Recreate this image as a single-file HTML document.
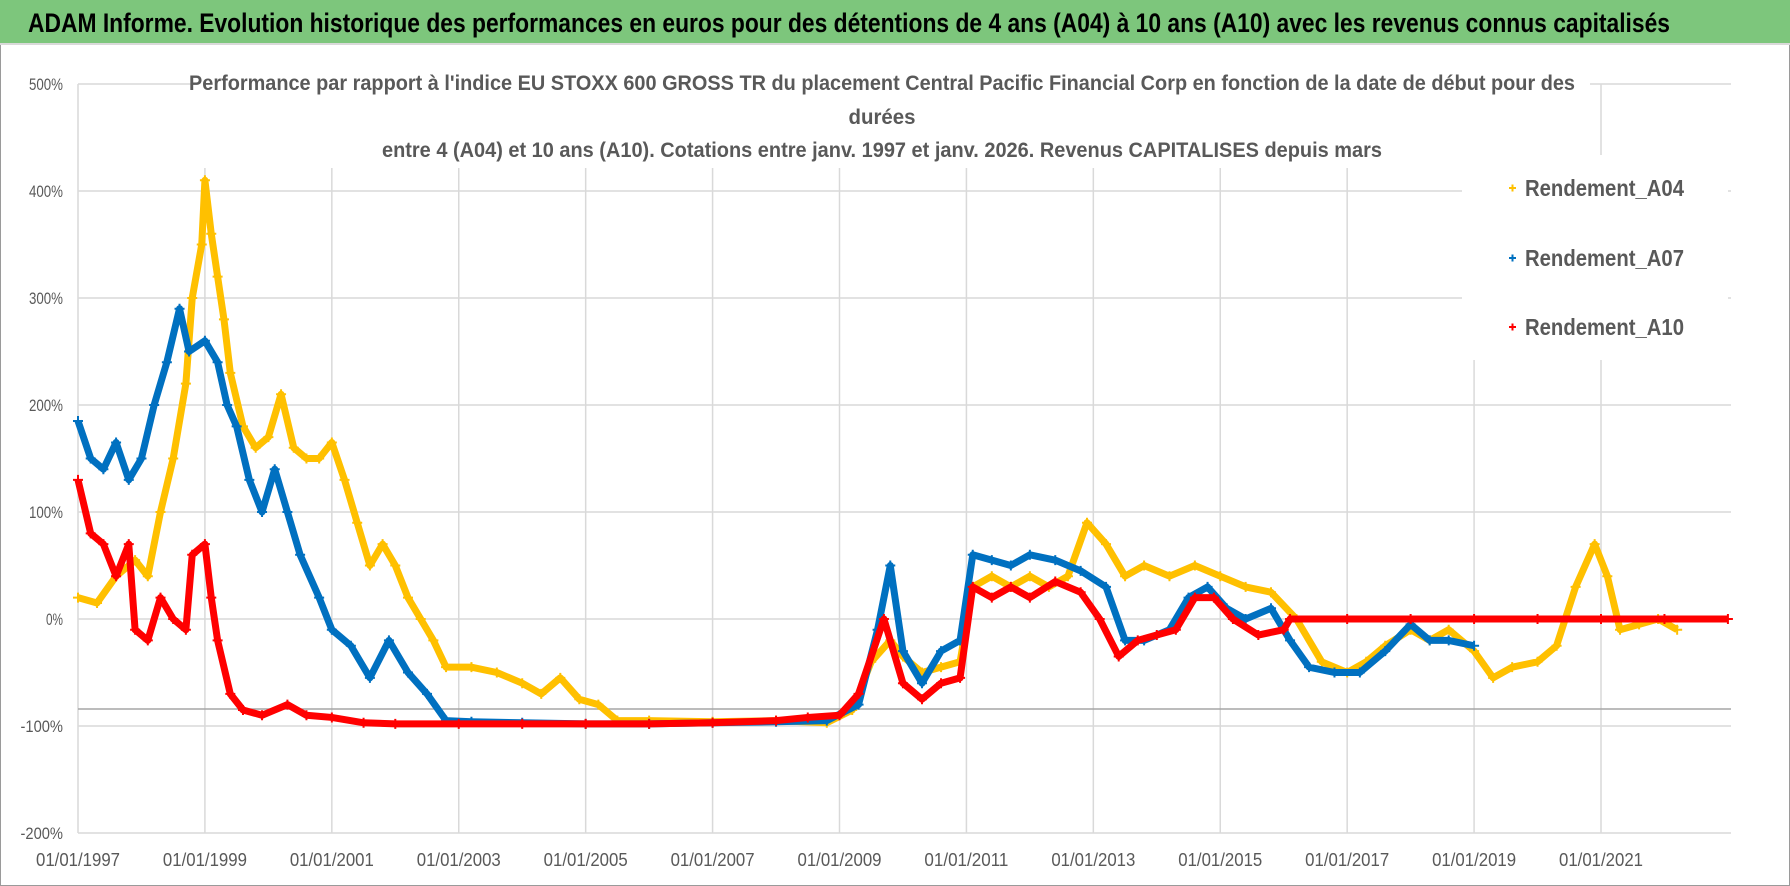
<!DOCTYPE html>
<html><head><meta charset="utf-8">
<style>
body{margin:0;width:1790px;height:886px;overflow:hidden;background:#fff;font-family:"Liberation Sans",sans-serif;}
#frame{position:absolute;left:0;top:0;width:1788px;height:884px;border:1px solid #9a9a9a;}
#title{position:absolute;left:0;top:0;width:1790px;height:43px;background:#7dc67c;border-bottom:2px solid #d9d9d9;}
svg{position:absolute;left:0;top:0;}
</style></head><body>
<div id="frame"></div>
<div id="title"></div>
<svg id="chart" width="1790" height="886">
<text x="28" y="32" font-size="27" font-weight="bold" fill="#000" textLength="1642" lengthAdjust="spacingAndGlyphs">ADAM Informe. Evolution historique des performances en euros pour des détentions de 4 ans (A04) à 10 ans (A10) avec les revenus connus capitalisés</text>
</svg>
<script>
const yTicks=[500,400,300,200,100,0,-100,-200];
const yTickLabels=["500%","400%","300%","200%","100%","0%","-100%","-200%"];
const xTicks=[1997,1999,2001,2003,2005,2007,2009,2011,2013,2015,2017,2019,2021];
const xTickLabels=["01/01/1997","01/01/1999","01/01/2001","01/01/2003","01/01/2005","01/01/2007","01/01/2009","01/01/2011","01/01/2013","01/01/2015","01/01/2017","01/01/2019","01/01/2021"];
const tA04=[1997.0,1997.3,1997.6,1997.9,1998.1,1998.3,1998.5,1998.7,1998.8,1998.95,1999.0,1999.1,1999.2,1999.3,1999.4,1999.6,1999.8,2000.0,2000.2,2000.4,2000.6,2000.8,2001.0,2001.2,2001.4,2001.6,2001.8,2002.0,2002.2,2002.4,2002.6,2002.8,2003.2,2003.6,2004.0,2004.3,2004.6,2004.9,2005.2,2005.5,2006.0,2007.0,2008.0,2008.8,2009.2,2009.5,2009.8,2010.0,2010.3,2010.6,2010.9,2011.1,2011.4,2011.7,2012.0,2012.3,2012.6,2012.9,2013.2,2013.5,2013.8,2014.2,2014.6,2015.0,2015.4,2015.8,2016.2,2016.6,2017.0,2017.3,2017.6,2018.0,2018.3,2018.6,2019.0,2019.3,2019.6,2020.0,2020.3,2020.6,2020.9,2021.1,2021.3,2021.6,2021.9,2022.2];
const vA04=[20,15,40,55,40,100,150,220,300,350,410,360,320,280,230,180,160,170,210,160,150,150,165,130,90,50,70,50,20,0,-20,-45,-45,-50,-60,-70,-55,-75,-80,-95,-95,-96,-95,-97,-85,-40,-20,-35,-50,-45,-40,30,40,30,40,30,40,90,70,40,50,40,50,40,30,25,0,-40,-50,-40,-25,-10,-20,-10,-30,-55,-45,-40,-25,30,70,40,-10,-5,0,-10];
const tA07=[1997.0,1997.2,1997.4,1997.6,1997.8,1998.0,1998.2,1998.4,1998.6,1998.75,1999.0,1999.2,1999.35,1999.5,1999.7,1999.9,2000.1,2000.3,2000.5,2000.8,2001.0,2001.3,2001.6,2001.9,2002.2,2002.5,2002.8,2003.2,2004.0,2005.0,2006.0,2007.0,2008.0,2008.8,2009.3,2009.6,2009.8,2010.0,2010.3,2010.6,2010.9,2011.1,2011.4,2011.7,2012.0,2012.4,2012.8,2013.2,2013.5,2013.8,2014.2,2014.5,2014.8,2015.1,2015.4,2015.8,2016.1,2016.4,2016.8,2017.2,2017.6,2018.0,2018.3,2018.6,2019.0];
const vA07=[185,150,140,165,130,150,200,240,290,250,260,240,200,180,130,100,140,100,60,20,-10,-25,-55,-20,-50,-70,-95,-96,-97,-98,-98,-97,-96,-95,-80,-10,50,-30,-60,-30,-20,60,55,50,60,55,45,30,-20,-20,-10,20,30,10,0,10,-20,-45,-50,-50,-30,-5,-20,-20,-25];
const tA10=[1997.0,1997.2,1997.4,1997.6,1997.8,1997.9,1998.1,1998.3,1998.5,1998.7,1998.8,1999.0,1999.1,1999.2,1999.4,1999.6,1999.9,2000.3,2000.6,2001.0,2001.5,2002.0,2003.0,2004.0,2005.0,2006.0,2007.0,2008.0,2008.5,2009.0,2009.3,2009.7,2010.0,2010.3,2010.6,2010.9,2011.1,2011.4,2011.7,2012.0,2012.4,2012.8,2013.1,2013.4,2013.7,2014.0,2014.3,2014.6,2014.9,2015.2,2015.6,2016.0,2016.1,2017.0,2018.0,2019.0,2020.0,2021.0,2022.0,2023.0];
const vA10=[130,80,70,40,70,-10,-20,20,0,-10,60,70,20,-20,-70,-85,-90,-80,-90,-92,-97,-98,-98,-98,-98,-98,-97,-95,-92,-90,-70,0,-60,-75,-60,-55,30,20,30,20,35,25,0,-35,-20,-15,-10,20,20,0,-15,-10,0,0,0,0,0,0,0,0];

const NS="http://www.w3.org/2000/svg";
const svg=document.getElementById('chart');
const L=78,R=1731,T=84,B=833;
const x=t=>L+(t-1997)*(1601-78)/24;
const y=v=>T+(500-v)*(B-T)/700;
function mk(tag,attrs,parent){const e=document.createElementNS(NS,tag);for(const k in attrs)e.setAttribute(k,attrs[k]);(parent||svg).appendChild(e);return e;}
yTicks.forEach((v,i)=>{
  const g=mk('line',{x1:L,x2:R,y1:y(v),y2:y(v),stroke:'#d9d9d9','stroke-width':1.5});
  
  
  const w=yTickLabels[i].length*8.5;
  const t=mk('text',{x:63,y:y(v)+6,'text-anchor':'end','font-size':17,fill:'#595959',textLength:w,lengthAdjust:'spacingAndGlyphs'});
  t.textContent=yTickLabels[i];
  
  
});
xTicks.forEach((v,i)=>{
  const g=mk('line',{x1:x(v),x2:x(v),y1:T,y2:B,stroke:'#d9d9d9','stroke-width':1.5});
  
  
  const t=mk('text',{x:x(v),y:866,'text-anchor':'middle','font-size':18,fill:'#595959',textLength:84,lengthAdjust:'spacingAndGlyphs'});
  t.textContent=xTickLabels[i];
  
  
});
const ref=mk('line',{x1:L,x2:R,y1:709,y2:709,stroke:'#a6a6a6','stroke-width':1.5});


const tb=mk('rect',{x:195,y:68,width:1395,height:100,fill:'#fff'});


const lb=mk('rect',{x:1462,y:155,width:266,height:205,fill:'#fff'});


const titles=["Performance par rapport à l'indice EU STOXX 600 GROSS TR  du placement Central Pacific Financial Corp en fonction de la date de début pour des","durées","entre 4 (A04) et 10 ans (A10). Cotations entre janv. 1997 et janv. 2026. Revenus CAPITALISES depuis mars"];
const tw=[1386,67,1000];
[90,124,157].forEach((yy,i)=>{
  const t=mk('text',{x:882,y:yy,'text-anchor':'middle','font-size':21,'font-weight':'bold',fill:'#595959',textLength:tw[i],lengthAdjust:'spacingAndGlyphs'});
  t.textContent=titles[i];
  
  
});
function series(ts,vs,color,name){
  const g=mk('g',{});
  
  
  const pts=ts.map((t,i)=>x(t)+','+y(vs[i])).join(' ');
  const pl=mk('polyline',{points:pts,fill:'none',stroke:color,'stroke-width':7,'stroke-linejoin':'round'},g);
  
  
  ts.forEach((t,i)=>{
    const p=mk('path',{d:`M${x(t)-5},${y(vs[i])}h10M${x(t)},${y(vs[i])-5}v10`,stroke:color,'stroke-width':2},g);
    
    
  });
}
series(tA04,vA04,'#ffc000','series-a04');
series(tA07,vA07,'#0070c0','series-a07');
series(tA10,vA10,'#ff0000','series-a10');
[['Rendement_A04','#ffc000',188],['Rendement_A07','#0070c0',258],['Rendement_A10','#ff0000',327]].forEach(d=>{
  const g=mk('g',{});
  
  
  mk('path',{d:`M1509,${d[2]}h7M1512.5,${d[2]-3.5}v7`,stroke:d[1],'stroke-width':2},g);
  const t=mk('text',{x:1525,y:d[2]+8,'font-size':23,'font-weight':'bold',fill:'#595959',textLength:159,lengthAdjust:'spacingAndGlyphs'},g);
  t.textContent=d[0];
});
</script>
</body></html>
